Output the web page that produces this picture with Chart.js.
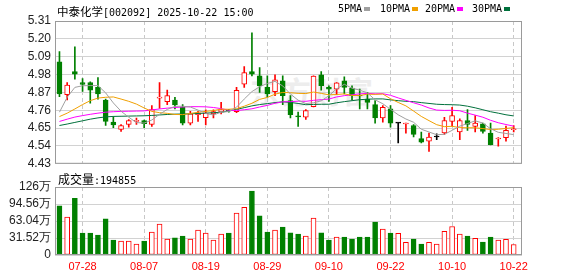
<!DOCTYPE html>
<html>
<head>
<meta charset="utf-8">
<script src="https://cdn.jsdelivr.net/npm/chart.js@4.4.1/dist/chart.umd.min.js"></script>
<style>
  body { margin: 0; background: #fff; }
  #wrap { position: relative; width: 578px; height: 276px; overflow: hidden; }
  #wrap canvas { position: absolute; left: 0; }
  .txt { position: absolute; white-space: nowrap; color: #000; line-height: 1; z-index: 5; }
  .mono { font-family: "DejaVu Sans Mono", monospace; font-size: 10px; }
  .cjk { font-family: "Noto Sans CJK SC", sans-serif; font-size: 11.5px; }
  .key { display: inline-block; width: 6px; height: 4px; margin-left: 2px; vertical-align: middle; }
  #mark { position: absolute; left: 250px; top: 68px; font: bold 30px "Noto Sans CJK SC"; color: #ededed; letter-spacing: 1px; }
</style>
</head>
<body>
<div id="wrap">
  <div id="mark">东方财富</div>
  <canvas id="priceChart" width="578" height="175" style="top:0"></canvas>
  <canvas id="volChart" width="578" height="106" style="top:170px"></canvas>
  <div class="txt" style="left:57px;top:3px"><span class="cjk">中泰化学</span><span class="mono">[002092] 2025-10-22 15:00</span></div>
  <div class="txt mono" style="left:338px;top:4px">5PMA<span class="key" style="background:#a0a0a0"></span></div>
  <div class="txt mono" style="left:380px;top:4px">10PMA<span class="key" style="background:#f0a000"></span></div>
  <div class="txt mono" style="left:425px;top:4px">20PMA<span class="key" style="background:#ff00ff"></span></div>
  <div class="txt mono" style="left:472px;top:4px">30PMA<span class="key" style="background:#00703c"></span></div>
  <div class="txt" style="left:58px;top:171px"><span class="cjk" style="font-size:12px">成交量</span><span class="mono">:194855</span></div>
</div>
<script>
const dates = ['07-23','07-24','07-25','07-28','07-29','07-30','07-31','08-01','08-04','08-05',
  '08-06','08-07','08-08','08-11','08-12','08-13','08-14','08-15','08-18','08-19',
  '08-20','08-21','08-22','08-25','08-26','08-27','08-28','08-29','09-01','09-02',
  '09-03','09-04','09-05','09-08','09-09','09-10','09-11','09-12','09-15','09-16',
  '09-17','09-18','09-19','09-22','09-23','09-24','09-25','09-26','09-29','09-30',
  '10-09','10-10','10-13','10-14','10-15','10-16','10-17','10-20','10-21','10-22'];

const opens = [5.059,4.856,4.998,4.931,4.931,4.901,4.823,4.687,4.642,4.672,
  4.691,4.697,4.672,4.835,4.813,4.823,4.778,4.681,4.732,4.715,
  4.738,4.748,4.760,4.752,4.921,4.998,4.972,4.901,4.874,4.941,
  4.819,4.723,4.717,4.782,4.978,4.901,4.890,4.941,4.897,4.852,
  4.829,4.795,4.713,4.768,4.681,4.675,4.666,4.585,4.569,4.595,
  4.621,4.691,4.626,4.697,4.660,4.677,4.619,4.583,4.591,4.640];
const highs = [5.121,4.931,5.151,4.955,4.935,4.962,4.829,4.721,4.672,4.703,
  4.711,4.699,4.789,4.931,4.884,4.840,4.795,4.754,4.754,4.762,
  4.762,4.809,4.766,4.901,5.029,5.237,5.023,4.972,4.978,4.972,
  4.850,4.748,4.764,4.972,4.998,4.911,4.931,4.966,4.911,4.890,
  4.870,4.819,4.789,4.789,4.683,4.681,4.672,4.626,4.619,4.615,
  4.717,4.778,4.707,4.764,4.727,4.681,4.681,4.591,4.662,4.666];
const lows = [4.844,4.823,4.951,4.876,4.803,4.829,4.666,4.652,4.630,4.656,
  4.672,4.652,4.660,4.772,4.795,4.768,4.670,4.670,4.691,4.670,
  4.713,4.738,4.748,4.745,4.901,4.972,4.870,4.840,4.850,4.795,
  4.713,4.660,4.703,4.780,4.884,4.815,4.856,4.860,4.823,4.768,
  4.768,4.681,4.687,4.656,4.558,4.619,4.595,4.558,4.507,4.579,
  4.611,4.662,4.579,4.636,4.626,4.619,4.546,4.538,4.569,4.626];
const closes = [4.860,4.915,4.982,4.919,4.884,4.860,4.691,4.670,4.666,4.697,
  4.697,4.677,4.764,4.838,4.850,4.793,4.681,4.738,4.744,4.742,
  4.752,4.764,4.756,4.882,4.992,4.982,4.911,4.860,4.947,4.850,
  4.732,4.719,4.758,4.970,4.911,4.890,4.929,4.901,4.850,4.848,
  4.809,4.713,4.778,4.681,4.681,4.679,4.611,4.564,4.595,4.595,
  4.697,4.727,4.697,4.672,4.681,4.630,4.548,4.589,4.636,4.646];

const ma5 = [4.748,4.840,4.901,4.911,4.912,4.912,4.867,4.805,4.754,4.717,
  4.684,4.681,4.700,4.735,4.765,4.784,4.785,4.780,4.761,4.740,
  4.731,4.748,4.752,4.779,4.829,4.875,4.905,4.925,4.938,4.910,
  4.860,4.822,4.801,4.806,4.818,4.850,4.892,4.920,4.896,4.884,
  4.867,4.824,4.800,4.766,4.732,4.706,4.686,4.643,4.626,4.609,
  4.612,4.636,4.662,4.678,4.695,4.681,4.646,4.624,4.617,4.610];
const ma10 = [4.721,4.742,4.768,4.795,4.819,4.835,4.840,4.842,4.829,4.815,
  4.798,4.774,4.753,4.745,4.741,4.734,4.733,4.740,4.748,4.753,
  4.758,4.767,4.766,4.770,4.785,4.803,4.827,4.839,4.859,4.870,
  4.868,4.864,4.863,4.872,4.864,4.855,4.857,4.861,4.851,4.851,
  4.859,4.858,4.860,4.831,4.808,4.787,4.755,4.722,4.696,4.671,
  4.659,4.661,4.653,4.652,4.652,4.647,4.641,4.643,4.648,4.653];
const ma20 = [4.691,4.705,4.718,4.727,4.735,4.742,4.748,4.751,4.753,4.754,
  4.755,4.756,4.762,4.768,4.773,4.777,4.780,4.782,4.782,4.781,
  4.777,4.770,4.760,4.758,4.763,4.769,4.780,4.790,4.803,4.812,
  4.813,4.816,4.815,4.821,4.825,4.829,4.842,4.850,4.855,4.861,
  4.864,4.861,4.862,4.852,4.836,4.821,4.806,4.792,4.774,4.761,
  4.759,4.760,4.757,4.742,4.730,4.717,4.698,4.683,4.672,4.662];
const ma30 = [4.666,4.675,4.685,4.695,4.705,4.713,4.719,4.722,4.723,4.724,
  4.725,4.726,4.728,4.731,4.734,4.736,4.737,4.738,4.740,4.742,
  4.745,4.748,4.755,4.765,4.776,4.787,4.795,4.801,4.807,4.812,
  4.808,4.802,4.794,4.796,4.797,4.797,4.806,4.813,4.819,4.825,
  4.828,4.830,4.830,4.824,4.819,4.815,4.813,4.807,4.802,4.797,
  4.795,4.794,4.792,4.785,4.775,4.763,4.751,4.742,4.732,4.725];

// volume in 万
const volumes = [91.0,70.1,105.2,40.6,40.6,36.9,67.0,27.7,25.8,25.8,
  20.3,25.8,42.4,57.2,29.5,32.0,35.1,29.5,46.1,40.6,
  27.7,38.7,40.6,77.5,88.6,118.7,72.6,42.4,46.1,51.7,
  41.2,38.7,35.1,68.3,41.2,27.7,33.2,33.2,29.5,33.2,
  33.2,60.9,48.0,40.6,40.0,23.4,29.5,20.3,23.4,20.3,
  43.7,52.9,38.7,35.1,30.8,24.0,33.2,27.7,28.9,19.49];

const priceTicks = [4.43, 4.54, 4.65, 4.76, 4.87, 4.98, 5.09, 5.20, 5.31];
const volTicks = [0, 31.52, 63.04, 94.56, 126.08];
const volTickLabels = ['0', '31.52万', '63.04万', '94.56万', '126万'];
const dateTickIdx = [3, 11, 19, 27, 35, 43, 51, 59];

const UP = '#ff0000';
const DOWN = '#008000';
const FLAT = '#000000';

function candleColor(i) {
  if (closes[i] > opens[i]) return UP;
  if (closes[i] < opens[i]) return DOWN;
  return FLAT;
}

const framePlugin = {
  id: 'frame',
  afterDraw(chart) {
    const { ctx, chartArea: a } = chart;
    ctx.save();
    ctx.strokeStyle = '#9a9a9a';
    ctx.lineWidth = 1;
    ctx.strokeRect(a.left + 0.5, a.top + 0.5, a.right - a.left - 1, a.bottom - a.top - 1);
    ctx.restore();
  }
};

function dateAxis(showLabels, height) {
  return {
    type: 'linear',
    min: -0.58,
    max: 60.08,
    offset: false,
    afterBuildTicks: s => { s.ticks = dateTickIdx.map(v => ({ value: v })); },
    afterFit: s => { s.height = height; },
    ticks: {
      display: showLabels,
      color: '#ff0000',
      font: { family: 'Liberation Sans', size: 11 },
      padding: 5,
      maxRotation: 0,
      autoSkip: false,
      callback: v => dates[v]
    },
    grid: { color: '#c8c8c8', drawTicks: false, offset: false },
    border: { display: false, dash: [4, 3] }
  };
}

function valueAxis(min, max, tickValues, label) {
  return {
    min: min,
    max: max,
    beginAtZero: false,
    afterBuildTicks: s => { s.ticks = tickValues.map(v => ({ value: v })); },
    afterFit: s => { s.width = 55; },
    ticks: {
      color: '#222222',
      font: { family: 'Liberation Sans', size: 12 },
      padding: 4,
      autoSkip: false,
      callback: label
    },
    grid: { color: '#d2d2d2', drawTicks: false },
    border: { display: false }
  };
}

function maLine(values, color) {
  return {
    type: 'line',
    order: 0,
    data: values.map((v, i) => ({ x: i, y: v })),
    borderColor: color,
    borderWidth: 1,
    pointRadius: 0,
    fill: false,
    tension: 0
  };
}

const baseOptions = {
  responsive: false,
  animation: false,
  events: [],
  plugins: { legend: { display: false }, tooltip: { enabled: false } }
};

new Chart(document.getElementById('priceChart').getContext('2d'), {
  type: 'bar',
  data: {
    datasets: [
      maLine(ma5, '#a0a0a0'),
      maLine(ma10, '#f0a000'),
      maLine(ma20, '#ff00ff'),
      maLine(ma30, '#00703c'),
      {
        order: 1,
        data: dates.map((d, i) => ({ x: i, y: [opens[i], closes[i]] })),
        backgroundColor: dates.map((d, i) => candleColor(i) === UP ? '#ffffff' : candleColor(i)),
        borderColor: dates.map((d, i) => candleColor(i)),
        borderWidth: 1,
        borderSkipped: false,
        barThickness: 5,
        minBarLength: 1,
        grouped: false
      },
      {
        order: 2,
        data: dates.map((d, i) => ({ x: i, y: [lows[i], highs[i]] })),
        backgroundColor: dates.map((d, i) => candleColor(i)),
        borderWidth: 0,
        barThickness: 1,
        grouped: false
      }
    ]
  },
  options: {
    ...baseOptions,
    layout: { padding: { left: 0, right: 56, top: 21, bottom: 10 } },
    scales: {
      x: dateAxis(false, 0),
      y: valueAxis(4.43, 5.31, priceTicks, v => v.toFixed(2))
    }
  },
  plugins: [framePlugin]
});

new Chart(document.getElementById('volChart').getContext('2d'), {
  type: 'bar',
  data: {
    datasets: [{
      data: volumes.map((v, i) => ({ x: i, y: v })),
      backgroundColor: volumes.map((v, i) => closes[i] >= opens[i] ? '#ffffff' : DOWN),
      borderColor: volumes.map((v, i) => closes[i] >= opens[i] ? UP : DOWN),
      borderWidth: 1,
      borderSkipped: false,
      barThickness: 5,
      grouped: false
    }]
  },
  options: {
    ...baseOptions,
    layout: { padding: { left: 0, right: 56, top: 17, bottom: 0 } },
    scales: {
      x: dateAxis(true, 21),
      y: valueAxis(0, 126.08, volTicks, (v, i) => volTickLabels[i])
    }
  },
  plugins: [framePlugin]
});
</script>
</body>
</html>
